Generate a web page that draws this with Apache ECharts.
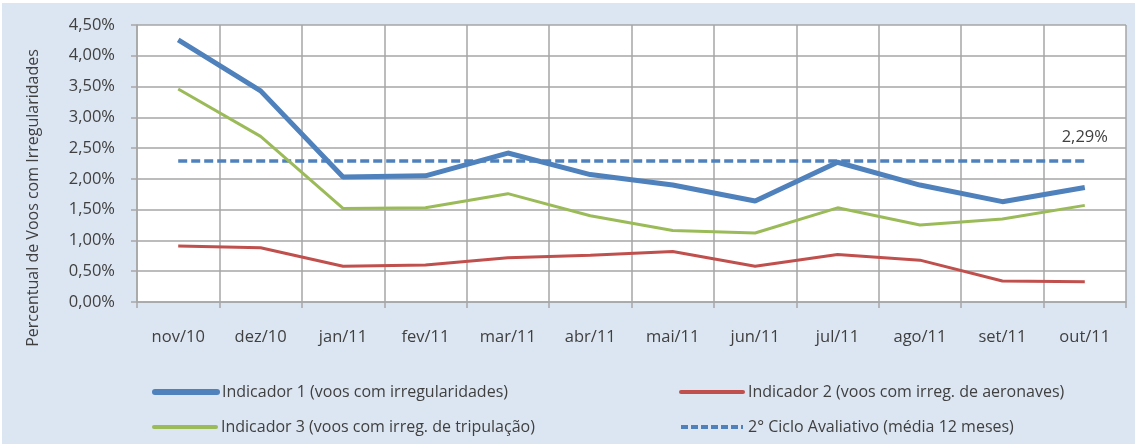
<!DOCTYPE html>
<html>
<head>
<meta charset="utf-8">
<script src="https://cdn.jsdelivr.net/npm/echarts@6/dist/echarts.min.js"></script>
<style>
html,body{margin:0;padding:0;background:#ffffff;}
#c{position:absolute;left:2px;top:3px;width:1133px;height:441px;}
</style>
</head>
<body>
<div id="c"></div>
<script>
const categories = ['nov/10','dez/10','jan/11','fev/11','mar/11','abr/11','mai/11','jun/11','jul/11','ago/11','set/11','out/11'];
const indicador1 = [4.26, 3.43, 2.03, 2.05, 2.42, 2.07, 1.90, 1.64, 2.27, 1.90, 1.63, 1.86];
const indicador2 = [0.91, 0.88, 0.58, 0.60, 0.72, 0.76, 0.82, 0.58, 0.77, 0.68, 0.34, 0.33];
const indicador3 = [3.46, 2.69, 1.52, 1.53, 1.76, 1.40, 1.16, 1.12, 1.53, 1.25, 1.35, 1.57];
const ciclo = [2.29, 2.29, 2.29, 2.29, 2.29, 2.29, 2.29, 2.29, 2.29, 2.29, 2.29, 2.29];
const yTicks = {min: 0, max: 4.5, interval: 0.5};
const names = ['Indicador 1 (voos com irregularidades)', 'Indicador 2 (voos com irreg. de aeronaves)', 'Indicador 3 (voos com irreg. de tripulação)', '2° Ciclo Avaliativo (média 12 meses)'];
const yTitle = 'Percentual de Voos com Irregularidades';

const fmt = v => v.toFixed(2).replace('.', ',') + '%';
const FONT = 'Open Sans';
const TXT = '#404040';
const GRID = '#a6a6a6';
const BLUE = '#4f81bd', RED = '#c0504d', GREEN = '#9bbb59';

function leg(name, left, top, w, dash) {
  return {
    data: [name], left: left, top: top,
    itemWidth: 62, itemHeight: 16,
    itemStyle: {opacity: 0},
    lineStyle: {width: w, type: dash ? [7, 3] : 'solid', cap: dash ? 'butt' : 'round'},
    textStyle: {fontFamily: FONT, fontSize: 16, color: TXT}
  };
}

const chart = echarts.init(document.getElementById('c'));
chart.setOption({
  backgroundColor: '#dce6f2',
  animation: false,
  grid: {left: 135, right: 9, top: 22, bottom: 142, show: true, backgroundColor: '#ffffff', borderWidth: 0},
  xAxis: {
    type: 'category', data: categories, boundaryGap: true,
    axisLine: {show: true, lineStyle: {color: GRID, width: 1.5}},
    axisTick: {show: true, length: 6, lineStyle: {color: GRID, width: 1.5}},
    splitLine: {show: true, lineStyle: {color: GRID, width: 1.5}},
    axisLabel: {fontFamily: FONT, fontSize: 16.5, color: TXT, margin: 27}
  },
  yAxis: {
    type: 'value', min: yTicks.min, max: yTicks.max, interval: yTicks.interval,
    axisLine: {show: true, lineStyle: {color: GRID, width: 1.5}},
    axisTick: {show: true, length: 6, lineStyle: {color: GRID, width: 1.5}},
    splitLine: {show: true, lineStyle: {color: GRID, width: 1.5}},
    axisLabel: {fontFamily: FONT, fontSize: 16.5, color: TXT, margin: 22, formatter: fmt}
  },
  legend: [
    leg(names[0], 145, 376, 6, false),
    leg(names[1], 672, 376, 4, false),
    leg(names[2], 145, 411, 4, false),
    leg(names[3], 672, 411, 4, true)
  ],
  graphic: [{
    type: 'text', x: 31, y: 195, rotation: Math.PI / 2,
    style: {text: yTitle, fontFamily: FONT, fontSize: 16, fill: TXT, align: 'center', verticalAlign: 'middle'}
  }],
  series: [
    {name: names[3], type: 'line', data: ciclo, symbol: 'circle', symbolSize: 0, showSymbol: true, z: 1,
     lineStyle: {color: BLUE, width: 3.5, type: [9, 4]}, itemStyle: {color: BLUE},
     label: {show: true, position: 'top', distance: 15, fontFamily: FONT, fontSize: 16.5, color: TXT,
             formatter: p => p.dataIndex === ciclo.length - 1 ? fmt(p.value) : ''}},
    {name: names[1], type: 'line', data: indicador2, symbol: 'none', z: 2,
     lineStyle: {color: RED, width: 3}, itemStyle: {color: RED}},
    {name: names[2], type: 'line', data: indicador3, symbol: 'none', z: 3,
     lineStyle: {color: GREEN, width: 3}, itemStyle: {color: GREEN}},
    {name: names[0], type: 'line', data: indicador1, symbol: 'none', z: 4,
     lineStyle: {color: BLUE, width: 5}, itemStyle: {color: BLUE}}
  ]
});
</script>
</body>
</html>
